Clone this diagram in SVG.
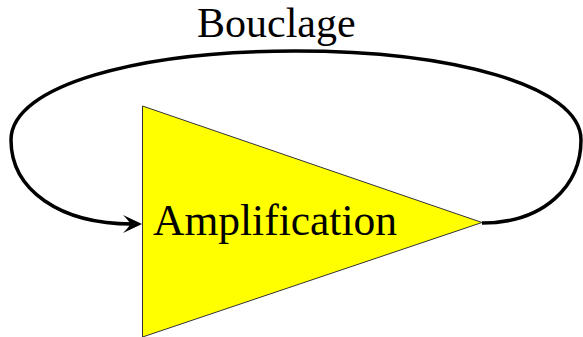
<svg xmlns="http://www.w3.org/2000/svg" width="583" height="337" viewBox="0 0 583 337">
<defs>
<path id="arrowhead" d="M0,0 L-19,-9 Q-12,-2 -12,0 Q-12,2 -19,9 Z" fill="#000"/>
</defs>
<rect width="583" height="337" fill="#fff"/>
<g id="amplification">
<polygon points="142.5,106 482,222.5 142.5,337" fill="#ffff00" stroke="#333" stroke-width="1"/>
<text x="153" y="235" font-size="43.5" font-family="Times New Roman, Liberation Serif, serif" fill="#000">Amplification</text>
</g>
<g id="connectors">
<path d="M482,223 C545,223 581,185 581,140 C581,85 450,51 295,51 C140,51 11,85 11,140 C11,190 60,224 132,224" fill="none" stroke="#000" stroke-width="3.5"/>
<use href="#arrowhead" x="142" y="224"/>
</g>
<g id="bouclage-label">
<text x="197" y="37" font-size="42" font-family="Times New Roman, Liberation Serif, serif" fill="#000">Bouclage</text>
</g>
</svg>
